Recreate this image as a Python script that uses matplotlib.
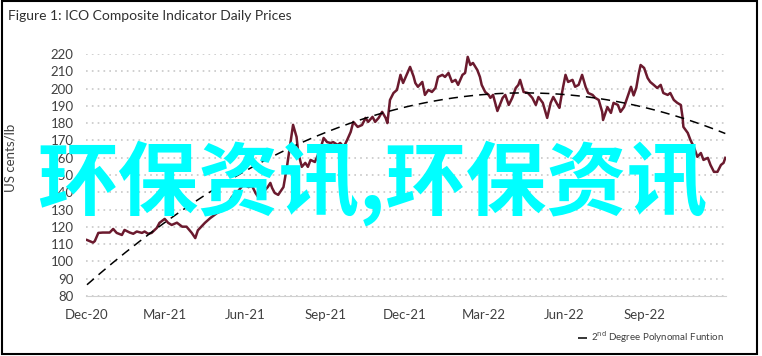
import numpy as np
import pandas as pd
import matplotlib
matplotlib.use("Agg")
import matplotlib.pyplot as plt
from matplotlib.patches import Rectangle

# ICO composite indicator, US cents/lb
dates = [
    "2020-12-02", "2020-12-09", "2020-12-11", "2020-12-15", "2020-12-20", "2020-12-28",
    "2021-01-01", "2021-01-05", "2021-01-11", "2021-01-14", "2021-01-20", "2021-01-24",
    "2021-01-28", "2021-02-03", "2021-02-06", "2021-02-10", "2021-02-14", "2021-02-20",
    "2021-02-23", "2021-03-01", "2021-03-05", "2021-03-09", "2021-03-15", "2021-03-21",
    "2021-03-26", "2021-04-01", "2021-04-05", "2021-04-08", "2021-04-16", "2021-04-22",
    "2021-04-30", "2021-05-07", "2021-05-13", "2021-05-17", "2021-05-23", "2021-05-29",
    "2021-06-01", "2021-06-05", "2021-06-09", "2021-06-13", "2021-06-16", "2021-06-22",
    "2021-06-27", "2021-06-30", "2021-07-02", "2021-07-05", "2021-07-09", "2021-07-15",
    "2021-07-19", "2021-07-23", "2021-07-26", "2021-07-30", "2021-08-01", "2021-08-05",
    "2021-08-09", "2021-08-12", "2021-08-15", "2021-08-20", "2021-08-26", "2021-08-30",
    "2021-09-03", "2021-09-07", "2021-09-10", "2021-09-15", "2021-09-18", "2021-09-22",
    "2021-09-26", "2021-09-30", "2021-10-03", "2021-10-08", "2021-10-13", "2021-10-17",
    "2021-10-20", "2021-10-25", "2021-10-28", "2021-11-01", "2021-11-05", "2021-11-09",
    "2021-11-11", "2021-11-14", "2021-11-18", "2021-11-22", "2021-11-26", "2021-11-29",
    "2021-12-04", "2021-12-07", "2021-12-11", "2021-12-13", "2021-12-16", "2021-12-21",
    "2021-12-24", "2021-12-28", "2022-01-01", "2022-01-05", "2022-01-08", "2022-01-13",
    "2022-01-16", "2022-01-20", "2022-01-24", "2022-01-28", "2022-01-31", "2022-02-05",
    "2022-02-08", "2022-02-11", "2022-02-14", "2022-02-17", "2022-02-22", "2022-02-25",
    "2022-02-27", "2022-03-03", "2022-03-07", "2022-03-09", "2022-03-12", "2022-03-17",
    "2022-03-23", "2022-03-26", "2022-03-30", "2022-04-03", "2022-04-07", "2022-04-10",
    "2022-04-12", "2022-04-16", "2022-04-21", "2022-04-26", "2022-04-30", "2022-05-03",
    "2022-05-08", "2022-05-11", "2022-05-13", "2022-05-17", "2022-05-20", "2022-05-25",
    "2022-05-27", "2022-05-31", "2022-06-03", "2022-06-06", "2022-06-11", "2022-06-14",
    "2022-06-18", "2022-06-22", "2022-06-26", "2022-06-29", "2022-07-04", "2022-07-07",
    "2022-07-11", "2022-07-15", "2022-07-16", "2022-07-21", "2022-07-25", "2022-07-28",
    "2022-08-02", "2022-08-05", "2022-08-09", "2022-08-13", "2022-08-17", "2022-08-20",
    "2022-08-23", "2022-08-26", "2022-08-28", "2022-09-01", "2022-09-05", "2022-09-08",
    "2022-09-12", "2022-09-16", "2022-09-20", "2022-09-23", "2022-09-28", "2022-10-01",
    "2022-10-05", "2022-10-09", "2022-10-13", "2022-10-15", "2022-10-16", "2022-10-21",
    "2022-10-24", "2022-10-28", "2022-11-01", "2022-11-05", "2022-11-08", "2022-11-13",
    "2022-11-16", "2022-11-20", "2022-11-24", "2022-11-28", "2022-12-01", "2022-12-03",
]
prices = [
    112.4, 110.9, 111.8, 116.5, 116.7, 116.7,
    118.8, 116.5, 115.3, 118.2, 116.7, 116.0,
    117.3, 116.5, 117.3, 116.0, 116.5, 119.4,
    122.3, 124.6, 122.3, 121.1, 122.4, 120.1,
    120.1, 116.5, 113.5, 118.0, 122.3, 125.0,
    128.0, 129.8, 133.8, 137.3, 140.0, 143.7,
    144.2, 143.0, 143.7, 139.6, 137.3, 140.2,
    143.0, 145.4, 142.5, 139.6, 138.5, 143.0,
    154.7, 168.5, 179.0, 172.0, 162.7, 154.7,
    157.0, 154.7, 158.7, 157.5, 164.5, 171.4,
    169.0, 168.5, 169.0, 167.4, 168.5, 166.2,
    170.3, 174.9, 180.7, 177.8, 178.9, 183.0,
    180.7, 183.6, 180.7, 183.0, 186.5, 183.0,
    180.0, 193.4, 197.4, 199.2, 207.9, 203.2,
    209.0, 212.5, 207.0, 203.2, 201.0, 203.8,
    196.3, 199.2, 198.0, 200.3, 206.7, 207.9,
    206.7, 209.0, 203.8, 205.0, 202.1, 207.9,
    209.0, 218.3, 213.6, 214.8, 210.7, 206.7,
    202.1, 198.0, 196.3, 194.6, 196.3, 187.0,
    194.6, 196.3, 190.5, 194.6, 200.3, 202.1,
    205.0, 198.0, 197.4, 194.6, 190.5, 195.1,
    191.7, 186.5, 183.0, 191.7, 195.1, 190.5,
    188.8, 200.3, 207.9, 203.8, 205.0, 201.0,
    202.1, 207.9, 201.0, 197.4, 196.3, 194.6,
    193.4, 186.5, 181.8, 189.3, 185.9, 191.7,
    190.5, 186.5, 189.3, 195.1, 201.0, 196.0,
    200.3, 209.0, 213.6, 211.9, 206.1, 203.8,
    202.1, 200.3, 202.1, 197.4, 196.3, 197.4,
    193.4, 191.7, 190.5, 183.6, 177.8, 174.3,
    170.3, 166.2, 160.5, 162.7, 158.7, 159.9,
    155.8, 151.8, 151.8, 155.8, 157.0, 159.9,
]

tick_dates = ["2020-12-01", "2021-03-01", "2021-06-01", "2021-09-01",
              "2021-12-01", "2022-03-01", "2022-06-01", "2022-09-01"]
tick_labels = ["Dec-20", "Mar-21", "Jun-21", "Sep-21",
               "Dec-21", "Mar-22", "Jun-22", "Sep-22"]

title = "Figure 1: ICO Composite Indicator Daily Prices"
watermark = "环保资讯,环保资讯"

font = ["Lato", "DejaVu Sans"]
text_color = "#404040"

x = pd.to_datetime(dates)
y = np.array(prices)

# 2nd degree polynomial trend on the series
t = (x - x[0]).days.values.astype(float)
coef = np.polyfit(t, y, 2)
t_fit = np.linspace(0, t[-1], 200)
x_fit = x[0] + pd.to_timedelta(t_fit, unit="D")
y_fit = np.polyval(coef, t_fit)

fig = plt.figure(figsize=(7.62, 3.56), dpi=100)
ax = fig.add_axes([0.113, 0.1685, 0.840, 0.680])

ax.plot(x, y, color="#6B1A2E", lw=1.8, zorder=3)
ax.plot(x_fit, y_fit, color="black", lw=1.1, ls=(0, (6, 4)), zorder=4,
        label=r"2$^{\rm nd}$ Degree Polynomal Funtion")

ax.set_ylim(80, 220)
ax.set_yticks(range(80, 221, 10))
ax.set_xlim(pd.Timestamp("2020-12-01"), pd.Timestamp("2022-12-04"))
ax.set_xticks(pd.to_datetime(tick_dates))
ax.set_xticklabels(tick_labels)

ax.grid(axis="y", color="#c8c8c8", ls=(0, (1, 2.5)), lw=1.2)
ax.set_axisbelow(True)
for s in ["top", "right", "left"]:
    ax.spines[s].set_visible(False)
ax.spines["bottom"].set_color("#d0d0d0")
ax.tick_params(axis="both", length=0, labelsize=9.5, colors=text_color)
ax.tick_params(axis="y", pad=9)
ax.tick_params(axis="x", pad=9)
for lab in ax.get_xticklabels() + ax.get_yticklabels():
    lab.set_family(font)

ax.set_ylabel("US cents/lb", fontsize=9.5, color=text_color, family=font)
ax.yaxis.set_label_coords(-0.108, 0.57)

fig.text(0.011, 0.955, title, fontsize=10, color="#303030", family=font,
         ha="left", va="center")

leg = fig.legend(loc="center right", bbox_to_anchor=(0.962, 0.053),
                 frameon=False, handlelength=1.0, handletextpad=0.4,
                 prop={"family": font, "size": 7})
for txt in leg.get_texts():
    txt.set_color(text_color)

fig.text(0.488, 0.486, watermark, fontsize=58, color="#00FFFF",
         fontweight="bold", family=["Noto Sans CJK SC", "DejaVu Sans"],
         ha="center", va="center", zorder=10)

fig.patches.append(Rectangle((0.002, 0.006), 0.991, 0.99,
                             transform=fig.transFigure, fill=False,
                             edgecolor="black", lw=1.5))

fig.savefig("out.png", dpi=100)
